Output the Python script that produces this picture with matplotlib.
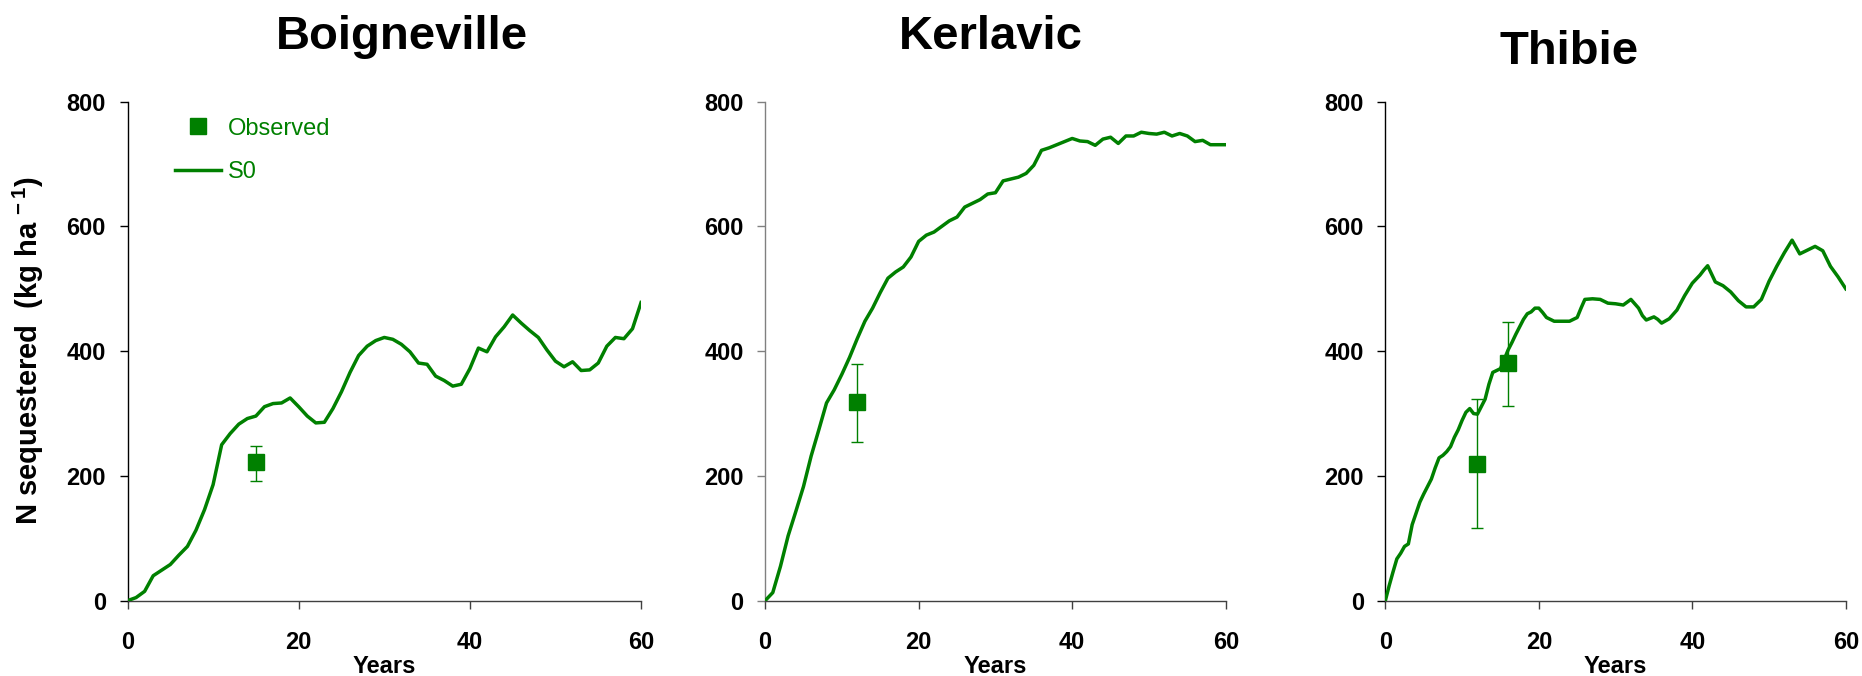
import numpy as np
import matplotlib.pyplot as plt

plt.rcParams['font.family'] = ['Liberation Sans', 'DejaVu Sans']
plt.rcParams['mathtext.fontset'] = 'custom'
plt.rcParams['mathtext.rm'] = 'Liberation Sans:bold'
plt.rcParams['mathtext.bf'] = 'Liberation Sans:bold'
plt.rcParams['mathtext.default'] = 'bf'

# Boigneville: simulated S0, yearly
boig_years = np.arange(0, 61)
boig_s0 = [0, 5, 15, 40, 49, 58, 73, 87, 113, 146, 186, 250, 268, 283, 292, 296,
           311, 316, 317, 325, 311, 296, 285, 286, 308, 335, 366, 393, 408, 417,
           422, 419, 411, 399, 381, 379, 360, 353, 344, 347, 372, 405, 399, 423,
           439, 458, 445, 433, 422, 402, 384, 375, 383, 369, 370, 381, 408, 422,
           420, 436, 478]
boig_obs_x = [15]
boig_obs_y = [222]
boig_err_lo = [30]
boig_err_hi = [26]

# Kerlavic
kerl_years = np.arange(0, 61)
kerl_s0 = [0, 13, 55, 104, 143, 183, 232, 274, 317, 338, 363, 390, 420, 448, 469,
           494, 517, 527, 535, 551, 576, 586, 591, 600, 609, 615, 631, 637, 643,
           652, 654, 673, 676, 679, 685, 698, 722, 726, 731, 736, 741, 737, 736,
           730, 740, 743, 733, 745, 745, 751, 749, 748, 751, 745, 749, 745, 736,
           738, 731, 731, 731]
kerl_obs_x = [12]
kerl_obs_y = [318]
kerl_err_lo = [64]
kerl_err_hi = [61]

# Thibie
thib_years = [0, 0.5, 1, 1.5, 2, 2.5, 3, 3.5, 4, 4.5, 5, 5.5, 6, 6.5, 7, 7.5, 8,
              8.5, 9, 9.5, 10, 10.5, 11, 11.5, 12, 12.5, 13, 13.5, 14, 14.5, 15,
              15.5, 16, 16.5, 17, 17.5, 18, 18.5, 19, 19.5, 20, 20.5, 21, 22, 23,
              24, 25, 25.5, 26, 27, 28, 29, 30, 31, 32, 33, 33.5, 34, 35, 35.5,
              36, 37, 38, 39, 40, 41, 41.5, 42, 42.5, 43, 44, 45, 46, 47, 48, 49,
              50, 51, 52, 53, 54, 55, 56, 57, 58, 59, 60]
thib_s0 = [0, 24, 46, 67, 76, 87, 91, 122, 140, 158, 171, 183, 195, 213, 229, 233,
           239, 247, 262, 274, 289, 302, 308, 300, 299, 311, 323, 347, 366, 369,
           372, 387, 402, 414, 427, 439, 451, 460, 463, 469, 469, 462, 454, 448,
           448, 448, 454, 469, 483, 484, 483, 477, 476, 474, 483, 469, 457, 450,
           455, 451, 445, 452, 466, 489, 509, 522, 530, 537, 524, 511, 505, 495,
           481, 471, 471, 483, 512, 536, 558, 578, 556, 562, 568, 561, 536, 519,
           500]
thib_obs_x = [12, 16]
thib_obs_y = [219, 381]
thib_err_lo = [103, 69]
thib_err_hi = [105, 66]

titles = ['Boigneville', 'Kerlavic', 'Thibie']
title_pos = [(402 / 1862, 1 - 49 / 676), (991 / 1862, 1 - 49 / 676),
             (1569 / 1862, 1 - 64 / 676)]
green = '#008000'

fig = plt.figure(figsize=(18.62, 6.76), dpi=100)
bottom, height = 0.1114, 0.7382
rects = [(0.06848, bottom, 0.2758, height),
         (0.4109, bottom, 0.2474, height),
         (0.7440, bottom, 0.2473, height)]
left_colors = ['black', '#808080', 'black']

panels = [(boig_years, boig_s0, boig_obs_x, boig_obs_y, boig_err_lo, boig_err_hi),
          (kerl_years, kerl_s0, kerl_obs_x, kerl_obs_y, kerl_err_lo, kerl_err_hi),
          (thib_years, thib_s0, thib_obs_x, thib_obs_y, thib_err_lo, thib_err_hi)]

for i, (yrs, s0, ox, oy, elo, ehi) in enumerate(panels):
    ax = fig.add_axes(rects[i])
    ax.errorbar(ox, oy, yerr=[elo, ehi], fmt='none', ecolor=green,
                elinewidth=1.0, capsize=4.5, capthick=1.0, zorder=2)
    ax.plot(ox, oy, 's', color=green, markersize=11, label='Observed', zorder=3)
    ax.plot(yrs, s0, '-', color=green, linewidth=2.5, label='S0', zorder=4)

    ax.set_xlim(0, 60)
    ax.set_ylim(0, 800)
    ax.set_xticks([0, 20, 40, 60])
    ax.set_yticks([0, 200, 400, 600, 800])
    for s in ['top', 'right']:
        ax.spines[s].set_visible(False)
    ax.spines['left'].set_color(left_colors[i])
    ax.spines['bottom'].set_color('#404040')
    ax.spines['left'].set_linewidth(1.0)
    ax.spines['bottom'].set_linewidth(1.0)
    ax.tick_params(axis='y', length=5.5, width=1.0, pad=10, labelsize=17,
                   color=left_colors[i])
    ax.tick_params(axis='x', length=5.5, width=1.0, pad=16, labelsize=17,
                   color='#404040')
    for lab in ax.get_xticklabels() + ax.get_yticklabels():
        lab.set_fontweight('bold')
    ax.set_xlabel('Years', fontsize=17, fontweight='bold')
    ax.xaxis.set_label_coords(0.5, -0.108)

    fig.text(title_pos[i][0], title_pos[i][1], titles[i], fontsize=34,
             fontweight='bold', ha='center', va='baseline')

    if i == 0:
        ax.set_ylabel(r'N sequestered  (kg ha$^{\,-1}$)', fontsize=21,
                      fontweight='bold')
        ax.yaxis.label.set_va('center')
        ax.yaxis.set_label_coords(-0.193, 0.5)
        ax.legend(loc='upper left', bbox_to_anchor=(0.092, 0.968),
                  frameon=False, fontsize=17, handlelength=1.95,
                  handletextpad=0.3, borderpad=0, borderaxespad=0,
                  labelspacing=0.9, labelcolor=green)

fig.savefig('out.png', dpi=100)
